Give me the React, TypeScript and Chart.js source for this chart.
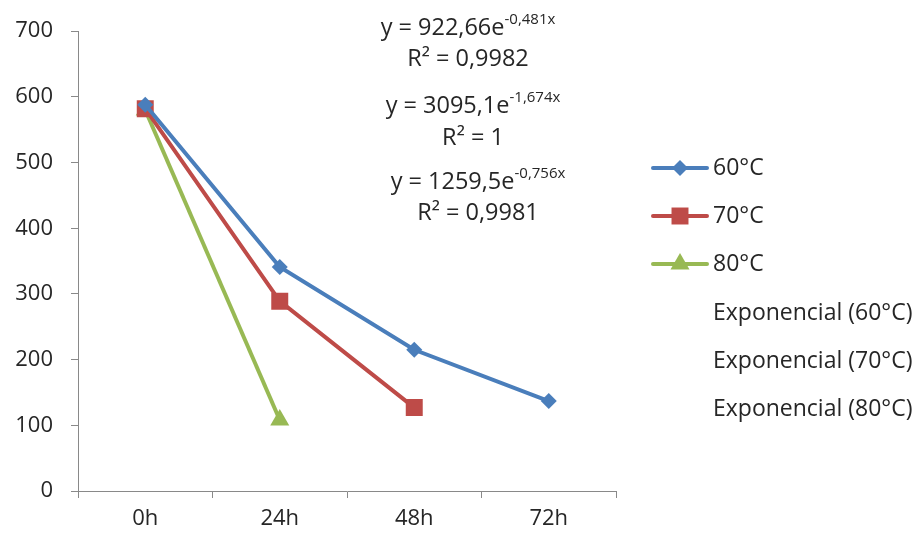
import React, { useEffect, useRef } from "react";
import { Chart, registerables } from "chart.js";

Chart.register(...registerables);

const categories = ["0h", "24h", "48h", "72h"];
const series60 = [588, 341, 215, 137];
const series70 = [582, 289, 127, null];
const series80 = [580, 108, null, null];
const yTicks = [0, 100, 200, 300, 400, 500, 600, 700];

const seriesNames = ["60°C", "70°C", "80°C"];
const trendNames = ["Exponencial (60°C)", "Exponencial (70°C)", "Exponencial (80°C)"];
const equations = [
  { base: "y = 922,66e", sup: "-0,481x", r2: "R² = 0,9982" },
  { base: "y = 3095,1e", sup: "-1,674x", r2: "R² = 1" },
  { base: "y = 1259,5e", sup: "-0,756x", r2: "R² = 0,9981" },
];

const COLORS = ["#4A7EBB", "#BE4B48", "#98B954"];
const STYLES = ["rectRot", "rect", "triangle"];
const RADII = [8, 12, 11];
const FONT = "'Open Sans', 'Noto Sans', sans-serif";
const TEXT = "#262626";
const AXIS = "#898989";
const TICK_SIZE = 22;
const LEG_SIZE = 23;
const EQ_SIZE = 23.5;
const SUP_SIZE = 15;

function drawMarker(ctx: CanvasRenderingContext2D, style: string, r: number, x: number, y: number, color: string) {
  ctx.fillStyle = color;
  ctx.beginPath();
  if (style === "rectRot") {
    ctx.moveTo(x, y - r);
    ctx.lineTo(x + r, y);
    ctx.lineTo(x, y + r);
    ctx.lineTo(x - r, y);
  } else if (style === "rect") {
    const s = r * Math.SQRT1_2;
    ctx.rect(x - s, y - s, 2 * s, 2 * s);
  } else {
    ctx.moveTo(x, y - r);
    ctx.lineTo(x + (r * Math.sqrt(3)) / 2, y + r / 2);
    ctx.lineTo(x - (r * Math.sqrt(3)) / 2, y + r / 2);
  }
  ctx.closePath();
  ctx.fill();
}

const overlayPlugin = {
  id: "overlay",
  afterDraw(chart: any) {
    const ctx = chart.ctx;
    ctx.save();
    const eqPos = [
      { cx: 468, y1: 28, y2: 59 },
      { cx: 473, y1: 106, y2: 138 },
      { cx: 478, y1: 182, y2: 213 },
    ];
    ctx.fillStyle = TEXT;
    ctx.textBaseline = "middle";
    equations.forEach((eq, i) => {
      const p = eqPos[i];
      ctx.font = `${EQ_SIZE}px ${FONT}`;
      const wb = ctx.measureText(eq.base).width;
      ctx.font = `${SUP_SIZE}px ${FONT}`;
      const ws = ctx.measureText(eq.sup).width;
      const left = p.cx - (wb + ws) / 2;
      ctx.font = `${EQ_SIZE}px ${FONT}`;
      ctx.textAlign = "left";
      ctx.fillText(eq.base, left, p.y1);
      ctx.font = `${SUP_SIZE}px ${FONT}`;
      ctx.fillText(eq.sup, left + wb, p.y1 - 8);
      ctx.font = `${EQ_SIZE}px ${FONT}`;
      ctx.textAlign = "center";
      ctx.fillText(eq.r2, p.cx, p.y2);
    });
    const lx0 = 653, lx1 = 707, tx = 713;
    const ys = [168, 216, 264, 313, 361, 409];
    ctx.textAlign = "left";
    seriesNames.forEach((name, i) => {
      const y = ys[i];
      ctx.strokeStyle = COLORS[i];
      ctx.lineWidth = 4;
      ctx.lineCap = "round";
      ctx.beginPath();
      ctx.moveTo(lx0, y);
      ctx.lineTo(lx1, y);
      ctx.stroke();
      ctx.lineCap = "butt";
      drawMarker(ctx, STYLES[i], RADII[i], 680, y, COLORS[i]);
      ctx.fillStyle = TEXT;
      ctx.font = `${LEG_SIZE}px ${FONT}`;
      ctx.fillText(name, tx, y);
    });
    trendNames.forEach((name, i) => {
      ctx.fillStyle = TEXT;
      ctx.font = `${LEG_SIZE}px ${FONT}`;
      ctx.fillText(name, tx, ys[3 + i]);
    });
    ctx.restore();
  },
};

export default function App() {
  const ref = useRef<HTMLCanvasElement>(null);
  useEffect(() => {
    if (!ref.current) return;
    const datasets = [series60, series70, series80].map((d, i) => ({
      label: seriesNames[i],
      data: d,
      borderColor: COLORS[i],
      backgroundColor: COLORS[i],
      borderWidth: 4,
      pointStyle: STYLES[i] as any,
      pointRadius: RADII[i],
      pointBorderWidth: 0,
      pointBackgroundColor: COLORS[i],
      tension: 0,
      spanGaps: false,
    }));
    const chart = new Chart(ref.current, {
      type: "line",
      data: { labels: categories, datasets },
      options: {
        animation: false,
        responsive: false,
        layout: { padding: { left: 0, right: 299, top: 30, bottom: 0 } },
        plugins: { legend: { display: false }, tooltip: { enabled: false } },
        scales: {
          x: {
            offset: true,
            grid: { display: true, drawOnChartArea: false, drawTicks: true, tickLength: 7, color: AXIS, offset: true },
            border: { display: true, color: AXIS, width: 1 },
            ticks: { color: TEXT, font: { family: FONT, size: TICK_SIZE }, padding: 8, maxRotation: 0 },
            afterFit: (s: any) => { s.height = 44; },
          },
          y: {
            min: 0,
            max: 700,
            afterBuildTicks: (s: any) => { s.ticks = yTicks.map((v) => ({ value: v })); },
            grid: { display: true, drawOnChartArea: false, drawTicks: true, tickLength: 7, color: AXIS },
            border: { display: true, color: AXIS, width: 1 },
            ticks: { color: TEXT, font: { family: FONT, size: TICK_SIZE }, padding: 18 },
            afterFit: (s: any) => { s.width = 78; },
          },
        },
      },
      plugins: [overlayPlugin],
    });
    return () => chart.destroy();
  }, []);
  return (
    <div style={{ position: "absolute", left: 0, top: 0, width: 915, height: 535, background: "#fff" }}>
      <canvas ref={ref} width={915} height={535} style={{ display: "block", width: 915, height: 535 }} />
    </div>
  );
}
